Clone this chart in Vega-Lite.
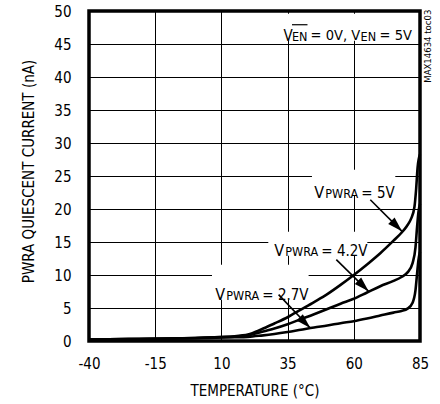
{
  "$schema": "https://vega.github.io/schema/vega-lite/v6.json",
  "width": 331,
  "height": 330,
  "autosize": {"type": "none"},
  "padding": {"left": 89, "top": 11, "right": 20, "bottom": 63},
  "background": "white",
  "config": {
    "font": "DejaVu Sans Condensed, Liberation Sans Narrow, sans-serif",
    "view": {"stroke": "black", "strokeWidth": 3.5},
    "axis": {
      "grid": true,
      "gridColor": "#000000",
      "gridWidth": 1,
      "gridOpacity": 1,
      "ticks": false,
      "domain": false,
      "labelColor": "#000000",
      "labelFontSize": 15,
      "labelFlush": false,
      "titleColor": "#000000",
      "titleFontSize": 15,
      "titleFontWeight": "normal"
    }
  },
  "datasets": {
    "curves": [
      {"s": "5V", "t": -40, "v": 0.2}, {"s": "5V", "t": -25, "v": 0.28}, {"s": "5V", "t": -15, "v": 0.35}, {"s": "5V", "t": 0, "v": 0.45},
      {"s": "5V", "t": 10, "v": 0.6}, {"s": "5V", "t": 15, "v": 0.7}, {"s": "5V", "t": 18, "v": 0.85}, {"s": "5V", "t": 20, "v": 1.0},
      {"s": "5V", "t": 25, "v": 1.75}, {"s": "5V", "t": 30, "v": 2.65}, {"s": "5V", "t": 35, "v": 3.6}, {"s": "5V", "t": 40, "v": 4.75},
      {"s": "5V", "t": 45, "v": 5.9}, {"s": "5V", "t": 50, "v": 7.1}, {"s": "5V", "t": 55, "v": 8.5}, {"s": "5V", "t": 60, "v": 10.0},
      {"s": "5V", "t": 65, "v": 11.6}, {"s": "5V", "t": 70, "v": 13.3}, {"s": "5V", "t": 75, "v": 15.2}, {"s": "5V", "t": 78, "v": 16.4},
      {"s": "5V", "t": 80, "v": 17.4}, {"s": "5V", "t": 81.6, "v": 18.5}, {"s": "5V", "t": 82.9, "v": 20.3}, {"s": "5V", "t": 83.5, "v": 22.8},
      {"s": "5V", "t": 84.1, "v": 26.3}, {"s": "5V", "t": 85, "v": 28.3},
      {"s": "4.2V", "t": -40, "v": 0.2}, {"s": "4.2V", "t": -25, "v": 0.28}, {"s": "4.2V", "t": -15, "v": 0.35}, {"s": "4.2V", "t": 0, "v": 0.45},
      {"s": "4.2V", "t": 10, "v": 0.58}, {"s": "4.2V", "t": 15, "v": 0.65}, {"s": "4.2V", "t": 18, "v": 0.75}, {"s": "4.2V", "t": 20, "v": 0.85},
      {"s": "4.2V", "t": 25, "v": 1.35}, {"s": "4.2V", "t": 30, "v": 1.9}, {"s": "4.2V", "t": 35, "v": 2.55}, {"s": "4.2V", "t": 40, "v": 3.3},
      {"s": "4.2V", "t": 45, "v": 4.05}, {"s": "4.2V", "t": 50, "v": 4.85}, {"s": "4.2V", "t": 55, "v": 5.65}, {"s": "4.2V", "t": 60, "v": 6.4},
      {"s": "4.2V", "t": 65, "v": 7.35}, {"s": "4.2V", "t": 70, "v": 8.3}, {"s": "4.2V", "t": 75, "v": 9.1}, {"s": "4.2V", "t": 78, "v": 9.7},
      {"s": "4.2V", "t": 80.3, "v": 10.4}, {"s": "4.2V", "t": 82.2, "v": 11.8}, {"s": "4.2V", "t": 83.3, "v": 14.2}, {"s": "4.2V", "t": 83.9, "v": 17.3},
      {"s": "4.2V", "t": 84.4, "v": 19.5}, {"s": "4.2V", "t": 85, "v": 20.8},
      {"s": "2.7V", "t": -40, "v": 0.2}, {"s": "2.7V", "t": -25, "v": 0.28}, {"s": "2.7V", "t": -15, "v": 0.35}, {"s": "2.7V", "t": 0, "v": 0.42},
      {"s": "2.7V", "t": 10, "v": 0.52}, {"s": "2.7V", "t": 15, "v": 0.56}, {"s": "2.7V", "t": 20, "v": 0.63}, {"s": "2.7V", "t": 25, "v": 0.82},
      {"s": "2.7V", "t": 30, "v": 1.05}, {"s": "2.7V", "t": 35, "v": 1.35}, {"s": "2.7V", "t": 40, "v": 1.7}, {"s": "2.7V", "t": 45, "v": 2.05},
      {"s": "2.7V", "t": 50, "v": 2.35}, {"s": "2.7V", "t": 55, "v": 2.7}, {"s": "2.7V", "t": 60, "v": 3.0}, {"s": "2.7V", "t": 65, "v": 3.4},
      {"s": "2.7V", "t": 70, "v": 3.85}, {"s": "2.7V", "t": 75, "v": 4.3}, {"s": "2.7V", "t": 78, "v": 4.55}, {"s": "2.7V", "t": 80.3, "v": 4.9},
      {"s": "2.7V", "t": 82.2, "v": 5.8}, {"s": "2.7V", "t": 83.3, "v": 7.7}, {"s": "2.7V", "t": 83.9, "v": 10.2}, {"s": "2.7V", "t": 84.4, "v": 12.2},
      {"s": "2.7V", "t": 85, "v": 13.5}
    ],
    "labels": [
      {"t": 45.08, "v": 22.42, "rest": "= 5V"},
      {"t": 29.98, "v": 13.58, "rest": "= 4.2V"},
      {"t": 7.7, "v": 6.91, "rest": "= 2.7V"}
    ],
    "boxes": [
      {"t": 44.2, "t2": 75.67, "v": 25.95, "v2": 22.0},
      {"t": 27.71, "t2": 65.1, "v": 16.56, "v2": 12.92},
      {"t": 6.45, "t2": 42.93, "v": 11.56, "v2": 6.26},
      {"t": 33.38, "t2": 81.34, "v": 49.59, "v2": 45.5}
    ],
    "arrows": [
      {"t": 66.23, "v": 21.41, "t2": 78.2, "v2": 16.61},
      {"t": 53.39, "v": 12.32, "t2": 65.59, "v2": 7.52},
      {"t": 31.6, "v": 7.02, "t2": 43.57, "v2": 1.97}
    ],
    "header": [{"t": 33.49, "v": 46.26}],
    "overline": [{"t": 36.66, "t2": 42.51, "v": 47.92}],
    "note": [{"t": 88.13, "v": 44.67, "txt": "MAX14634 toc03"}]
  },
  "encoding": {
    "x": {
      "field": "t", "type": "quantitative",
      "scale": {"domain": [-40, 85], "nice": false, "zero": false},
      "axis": {"values": [-40, -15, 10, 35, 60, 85], "labelExpr": "'' + datum.value", "labelPadding": 15, "titlePadding": 12, "title": "TEMPERATURE (°C)"}
    },
    "y": {
      "field": "v", "type": "quantitative",
      "scale": {"domain": [0, 50], "nice": false, "zero": false},
      "axis": {"values": [0, 5, 10, 15, 20, 25, 30, 35, 40, 45, 50], "labelPadding": 18, "titlePadding": 17, "titleY": 160, "title": "PWRA QUIESCENT CURRENT (nA)"}
    }
  },
  "layer": [
    {
      "data": {"name": "boxes"},
      "mark": {"type": "rect", "fill": "white", "strokeWidth": 0},
      "encoding": {"x2": {"field": "t2"}, "y2": {"field": "v2"}}
    },
    {
      "data": {"name": "curves"},
      "mark": {"type": "line", "interpolate": "monotone", "color": "black", "strokeWidth": 2.6},
      "encoding": {"detail": {"field": "s"}}
    },
    {
      "data": {"name": "arrows"},
      "mark": {"type": "rule", "color": "black", "strokeWidth": 1.6},
      "encoding": {"x2": {"field": "t2"}, "y2": {"field": "v2"}}
    },
    {
      "data": {"name": "arrows"},
      "mark": {"type": "point", "shape": "M0,0L-2,-0.6L-2,0.6Z", "filled": true, "fill": "black", "fillOpacity": 1, "opacity": 1, "size": 225, "angle": 45, "strokeWidth": 0},
      "encoding": {"x": {"field": "t2", "type": "quantitative"}, "y": {"field": "v2", "type": "quantitative"}}
    },
    {
      "data": {"name": "labels"},
      "mark": {"type": "text", "text": "V", "align": "left", "fontSize": 16, "color": "black"}
    },
    {
      "data": {"name": "labels"},
      "mark": {"type": "text", "text": "PWRA", "align": "left", "fontSize": 12.5, "dx": 11, "dy": 1, "color": "black"}
    },
    {
      "data": {"name": "labels"},
      "mark": {"type": "text", "align": "left", "fontSize": 15, "dx": 47, "color": "black"},
      "encoding": {"text": {"field": "rest"}}
    },
    {
      "data": {"name": "header"},
      "mark": {"type": "text", "text": "V", "align": "left", "fontSize": 15, "color": "black"}
    },
    {
      "data": {"name": "header"},
      "mark": {"type": "text", "text": "EN", "align": "left", "fontSize": 12.5, "dx": 8.4, "dy": 1, "color": "black"}
    },
    {
      "data": {"name": "header"},
      "mark": {"type": "text", "text": "= 0V, V", "align": "left", "fontSize": 14.5, "dx": 27, "color": "black"}
    },
    {
      "data": {"name": "header"},
      "mark": {"type": "text", "text": "EN", "align": "left", "fontSize": 12.5, "dx": 77, "dy": 1, "color": "black"}
    },
    {
      "data": {"name": "header"},
      "mark": {"type": "text", "text": "= 5V", "align": "left", "fontSize": 14.5, "dx": 96, "color": "black"}
    },
    {
      "data": {"name": "overline"},
      "mark": {"type": "rule", "color": "black", "strokeWidth": 1.2},
      "encoding": {"x2": {"field": "t2"}}
    },
    {
      "data": {"name": "note"},
      "mark": {"type": "text", "angle": 270, "align": "center", "baseline": "middle", "fontSize": 9.5, "color": "black"},
      "encoding": {"text": {"field": "txt"}}
    }
  ]
}
